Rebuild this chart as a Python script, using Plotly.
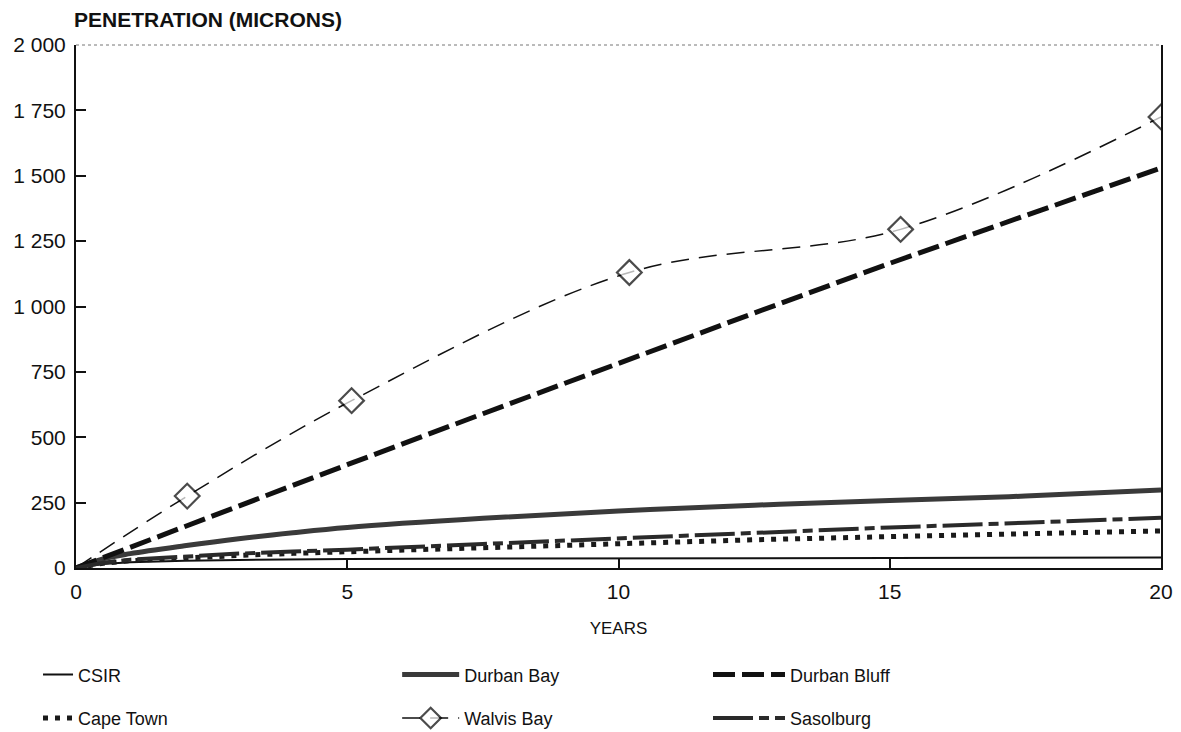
import plotly.graph_objects as go

# ---- data ----
years = [0, 0.5, 1, 2, 3, 4, 5, 7.5, 10, 12.5, 15, 17.5, 20]
csir = [0, 15, 22, 28, 31, 33, 34, 36, 37, 38, 38, 39, 40]
durban_bay = [0, 35, 55, 85, 112, 135, 155, 190, 218, 240, 258, 275, 298]
durban_bluff = [0, 40, 80, 160, 240, 318, 395, 590, 785, 975, 1165, 1350, 1530]
cape_town = [0, 18, 28, 40, 48, 56, 62, 80, 95, 108, 120, 131, 142]
sasolburg = [0, 20, 32, 45, 55, 63, 70, 92, 113, 135, 155, 173, 192]

walvis_years = [0, 2.05, 5.08, 10.2, 15.2, 20]
walvis_bay = [0, 275, 640, 1130, 1295, 1725]
walvis_marker_size = [0, 19, 19, 19, 19, 19]

x_ticks = [0, 5, 10, 15, 20]
y_ticks = [0, 250, 500, 750, 1000, 1250, 1500, 1750, 2000]
y_tick_labels = ["0", "250", "500", "750", "1 000", "1 250", "1 500", "1 750", "2 000"]

FONT = "Liberation Sans, Arial, Helvetica, sans-serif"

fig = go.Figure()

fig.add_trace(go.Scatter(x=years, y=csir, name="CSIR", mode="lines",
                         line=dict(color="#111111", width=2),
                         legend="legend", legendgroup="a"))
fig.add_trace(go.Scatter(x=years, y=cape_town, name="Cape Town", mode="lines",
                         line=dict(color="#1a1a1a", width=5, dash="5px,7px"),
                         legend="legend", legendgroup="b"))
fig.add_trace(go.Scatter(x=years, y=durban_bay, name="Durban Bay", mode="lines",
                         line=dict(color="#3a3a3a", width=5, shape="spline"),
                         legend="legend2", legendgroup="c"))
fig.add_trace(go.Scatter(x=walvis_years, y=walvis_bay, name="Walvis Bay", mode="lines+markers",
                         line=dict(color="#111111", width=1.5, dash="18px,10px",
                                   shape="spline", smoothing=1.0),
                         marker=dict(symbol="diamond", size=walvis_marker_size,
                                     color="white", line=dict(width=2.2, color="#000000")),
                         legend="legend2", legendgroup="d"))
fig.add_trace(go.Scatter(x=years, y=durban_bluff, name="Durban Bluff", mode="lines",
                         line=dict(color="#111111", width=5, dash="22px,7px"),
                         legend="legend3", legendgroup="e"))
fig.add_trace(go.Scatter(x=years, y=sasolburg, name="Sasolburg", mode="lines",
                         line=dict(color="#2a2a2a", width=4, dash="40px,6px,10px,6px"),
                         legend="legend3", legendgroup="f"))

leg_common = dict(orientation="v", yanchor="top", y=-0.169, bgcolor="rgba(0,0,0,0)",
                  font=dict(family=FONT, size=18, color="#111111"),
                  tracegroupgap=17)

fig.update_layout(
    width=1181, height=732,
    paper_bgcolor="white", plot_bgcolor="white",
    margin=dict(l=76, r=20, t=45, b=164, autoexpand=False),
    font=dict(family=FONT, size=17, color="#111111"),
    legend=dict(x=-0.035, xanchor="left", itemwidth=30, **leg_common),
    legend2=dict(x=0.296, xanchor="left", itemwidth=57, **leg_common),
    legend3=dict(x=0.5825, xanchor="left", itemwidth=72, **leg_common),
    annotations=[dict(text="<b>PENETRATION (MICRONS)</b>", xref="paper", yref="paper",
                      x=-0.004, y=1.048, xanchor="left", yanchor="middle", showarrow=False,
                      font=dict(family=FONT, size=21, color="#111111"))],
    shapes=[dict(type="line", xref="paper", yref="paper", x0=0, x1=1, y0=1, y1=1,
                 line=dict(color="#777777", width=1, dash="dot"))],
)

fig.update_xaxes(range=[0, 20], tickvals=x_ticks, ticks="inside", ticklen=10, tickwidth=1.5,
                 tickcolor="#111111", showline=True, linecolor="#111111", linewidth=2,
                 mirror=False, showgrid=False, zeroline=False,
                 tickfont=dict(size=21), ticklabelstandoff=4,
                 title=dict(text="YEARS", font=dict(size=17), standoff=20))
fig.update_yaxes(range=[0, 2000], tickvals=y_ticks, ticktext=y_tick_labels, ticks="inside",
                 ticklen=10, tickwidth=1.5, tickcolor="#111111", showline=True,
                 linecolor="#111111", linewidth=2, mirror=True, showgrid=False,
                 zeroline=False, tickfont=dict(size=21), ticklabelstandoff=4)

fig.write_html("out.html",
               config={"displayModeBar": False},
               post_script="document.body.style.margin='0';document.body.style.overflow='hidden';")
